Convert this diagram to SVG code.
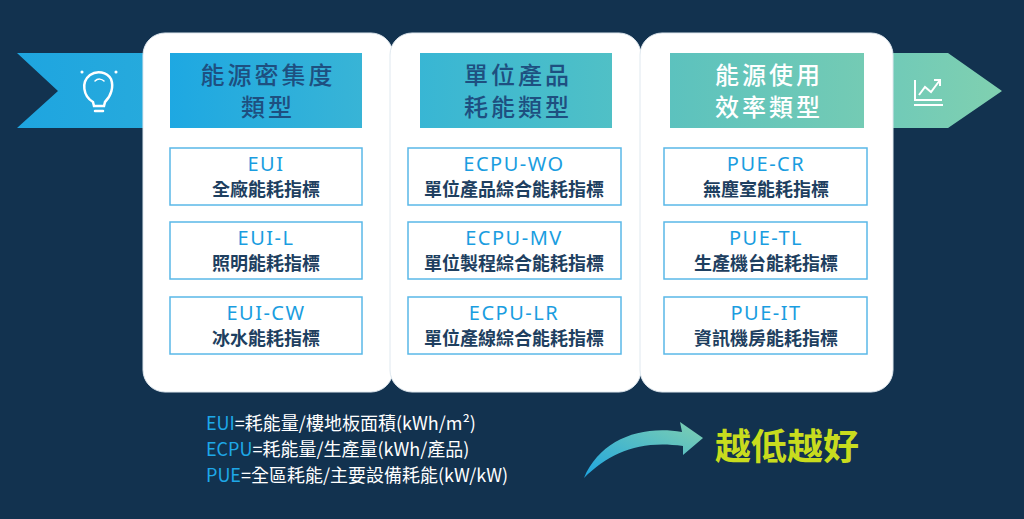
<svg xmlns="http://www.w3.org/2000/svg" width="1024" height="519" viewBox="0 0 1024 519">
<defs>
<linearGradient id="rib" x1="0" x2="1"><stop offset="0" stop-color="#1ea5e0"/><stop offset="0.5" stop-color="#3db7d2"/><stop offset="1" stop-color="#80d0b0"/></linearGradient>
<linearGradient id="h1" x1="0" x2="1"><stop offset="0" stop-color="#1ea8e2"/><stop offset="1" stop-color="#38b4d6"/></linearGradient>
<linearGradient id="h2" x1="0" x2="1"><stop offset="0" stop-color="#38b6d4"/><stop offset="1" stop-color="#50c0c6"/></linearGradient>
<linearGradient id="h3" x1="0" x2="1"><stop offset="0" stop-color="#5cc2be"/><stop offset="1" stop-color="#74cbb4"/></linearGradient>
<linearGradient id="arr" x1="0" y1="1" x2="1" y2="0"><stop offset="0" stop-color="#1ea5e0"/><stop offset="1" stop-color="#80d0b0"/></linearGradient>
<style>
.card{fill:#fff;stroke:#dfe8ef;stroke-width:1}
.item{fill:#fff;stroke:#5ab8e8;stroke-width:1.5}
.t1{font-family:"Noto Sans","Noto Sans CJK TC",sans-serif;font-size:20px;fill:#1a9de0;text-anchor:middle;letter-spacing:1.5px}
.t2{font-family:"Noto Sans CJK TC",sans-serif;font-size:18px;fill:#1e3f60;text-anchor:middle;font-weight:bold}
.hd{font-family:"Noto Sans CJK TC",sans-serif;font-size:24px;text-anchor:middle;letter-spacing:3px;font-weight:500}
.f{font-family:"Noto Sans CJK TC",sans-serif;font-size:18px;fill:#fff}
.fb{fill:#1ea8e8}
</style>
</defs>
<rect width="1024" height="519" fill="#12324f"/>
<polygon points="17,53 948,53 1002,91 948,128 17,128 58,91" fill="url(#rib)"/>
<g id="icon-bulb" fill="none" stroke="#fff" stroke-width="2.5" stroke-linecap="round">
<path d="M93,102 C83,96 81,82 90,75 C97,70 107,72 111,79 C114,87 111,96 105,102 L104,106 L94,106 Z"/>
<line x1="95" y1="111" x2="103" y2="111"/>
<path d="M95,81 C98,78 102,79 104,81" stroke-width="1.5"/>
<circle cx="82" cy="72" r="0.8" stroke-width="1.5"/><circle cx="116" cy="72" r="0.8" stroke-width="1.5"/>
</g>
<g id="icon-chart" fill="none" stroke="#fff" stroke-width="2">
<path d="M915,80 L915,100 L942,100"/><line x1="914" y1="105" x2="943" y2="105"/>
<polyline points="919,95 925,87 931,92 940,80"/><polyline points="934,80 940,80 940,86"/>
</g>
<g id="card1">
<rect class="card" x="143" y="33" width="250" height="359" rx="22"/>
<rect x="170" y="53" width="192" height="75" fill="url(#h1)"/>
<text class="hd" x="268" y="84" fill="#1e4f80">能源密集度</text>
<text class="hd" x="268" y="116" fill="#1e4f80">類型</text>
<rect class="item" x="170" y="148" width="192" height="57"/><text class="t1" x="266" y="171">EUI</text><text class="t2" x="266" y="196">全廠能耗指標</text>
<rect class="item" x="170" y="222" width="192" height="57"/><text class="t1" x="266" y="245">EUI-L</text><text class="t2" x="266" y="270">照明能耗指標</text>
<rect class="item" x="170" y="297" width="192" height="57"/><text class="t1" x="266" y="320">EUI-CW</text><text class="t2" x="266" y="345">冰水能耗指標</text>
</g>
<g id="card2">
<rect class="card" x="390" y="33" width="251" height="359" rx="22"/>
<rect x="420" y="53" width="192" height="75" fill="url(#h2)"/>
<text class="hd" x="518" y="84" fill="#1e4f80">單位產品</text>
<text class="hd" x="518" y="116" fill="#1e4f80">耗能類型</text>
<rect class="item" x="408" y="148" width="213" height="57"/><text class="t1" x="514" y="171">ECPU-WO</text><text class="t2" x="514" y="196">單位產品綜合能耗指標</text>
<rect class="item" x="408" y="222" width="213" height="57"/><text class="t1" x="514" y="245">ECPU-MV</text><text class="t2" x="514" y="270">單位製程綜合能耗指標</text>
<rect class="item" x="408" y="297" width="213" height="57"/><text class="t1" x="514" y="320">ECPU-LR</text><text class="t2" x="514" y="345">單位產線綜合能耗指標</text>
</g>
<g id="card3">
<rect class="card" x="640" y="33" width="253" height="359" rx="22"/>
<rect x="670" y="53" width="194" height="75" fill="url(#h3)"/>
<text class="hd" x="769" y="84" fill="#fff">能源使用</text>
<text class="hd" x="769" y="116" fill="#fff">效率類型</text>
<rect class="item" x="664" y="148" width="203" height="57"/><text class="t1" x="766" y="171">PUE-CR</text><text class="t2" x="766" y="196">無塵室能耗指標</text>
<rect class="item" x="664" y="222" width="203" height="57"/><text class="t1" x="766" y="245">PUE-TL</text><text class="t2" x="766" y="270">生產機台能耗指標</text>
<rect class="item" x="664" y="297" width="203" height="57"/><text class="t1" x="766" y="320">PUE-IT</text><text class="t2" x="766" y="345">資訊機房能耗指標</text>
</g>
<g id="formulas">
<text class="f" x="206" y="430"><tspan class="fb">EUI</tspan>=耗能量/樓地板面積(kWh/m²)</text>
<text class="f" x="206" y="456"><tspan class="fb">ECPU</tspan>=耗能量/生產量(kWh/產品)</text>
<text class="f" x="206" y="482"><tspan class="fb">PUE</tspan>=全區耗能/主要設備耗能(kW/kW)</text>
</g>
<g id="connectors">
<path d="M584,478 C600,440 640,425 682,432 L680,422 L703,438 L683,455 L683,446 C640,440 610,452 584,478 Z" fill="url(#arr)"/>
</g>
<text x="715" y="460" font-family="Noto Sans CJK TC,sans-serif" font-size="36" font-weight="bold" fill="#c8dc1e">越低越好</text>
</svg>
